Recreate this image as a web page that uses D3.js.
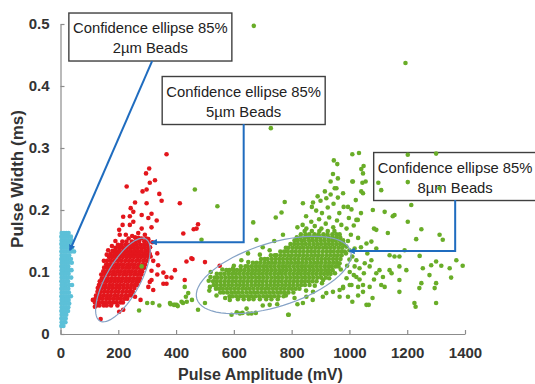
<!DOCTYPE html>
<html><head><meta charset="utf-8">
<script src="https://cdn.jsdelivr.net/npm/d3@7"></script>
<style>html,body{margin:0;padding:0;background:#fff}svg{display:block}</style>
</head><body>
<svg id="c" width="535" height="384"></svg>
<script>
const xTicks=[0,200,400,600,800,1000,1200,1400];
const yTicks=[0,0.1,0.2,0.3,0.4,0.5];
const xTitle="Pulse Amplitude (mV)";
const yTitle="Pulse Width (ms)";

// 2µm beads (rows: width, amplitudes)
const cyanRows=[
[0.163,[4,12,20,28]],[0.157,[3,11,19,27,36]],[0.151,[4,12,20,29,38]],[0.145,[3,11,19,27,35]],
[0.139,[4,12,20,28,40]],[0.133,[3,11,19,27,37,47]],[0.127,[4,12,20,30]],[0.121,[3,11,19,27,36]],
[0.115,[4,12,20,28,39]],[0.109,[3,11,19,27]],[0.103,[4,12,20,29,38]],[0.097,[3,11,19,28]],
[0.091,[4,12,20,27,37]],[0.085,[3,11,19,26]],[0.079,[4,12,20,30,40]],[0.073,[3,11,19,27]],
[0.067,[4,12,20,29]],[0.061,[3,11,19,27,36]],[0.055,[4,12,20,28]],[0.049,[3,11,19,30]],
[0.043,[4,12,20,27]],[0.037,[3,11,19,26]],[0.031,[4,12,20]],[0.025,[3,11,18]],[0.019,[4,12,17]],[0.013,[3,10]]
];
// 5µm beads
const redCoreRows=[
[0.154,[236,262,281,297]],
[0.149,[214,228,247,259,272,290,303]],
[0.144,[199,212,226,238,251,263,276,289,300]],
[0.139,[190,203,216,229,241,254,266,279,292,305]],
[0.134,[180,192,205,218,230,243,255,268,281,294,306]],
[0.129,[173,186,198,210,223,236,248,261,273,286,297,309]],
[0.124,[168,179,191,204,216,229,241,254,267,279,292,304]],
[0.118,[161,174,186,199,211,224,237,249,262,274,287,299]],
[0.112,[158,169,181,194,206,219,232,244,257,270,283,293]],
[0.107,[151,164,176,189,201,214,227,239,252,265,278,290]],
[0.101,[148,159,171,184,196,209,222,234,247,260,273,283]],
[0.096,[141,154,166,179,191,204,217,229,242,255,268,280]],
[0.090,[143,152,164,177,189,202,214,227,240,252,265,275]],
[0.085,[136,149,161,174,186,199,211,224,237,250,262,272]],
[0.079,[133,144,156,169,181,194,206,219,232,245,257,266]],
[0.074,[129,142,154,167,179,192,204,217,230,243,256]],
[0.068,[128,139,151,164,176,189,201,214,227,240,250]],
[0.062,[123,136,148,161,173,186,198,211,224,236,245]],
[0.057,[121,134,146,159,171,184,196,209,222,231]],
[0.051,[119,132,144,157,169,182,194,207,216]],
[0.046,[125,135,150,160,175,197]]
];
const redScatter=[
[367,.290],[307,.267],[296,.259],[327,.248],[309,.244],[229,.238],[298,.233],[284,.230],[342,.226],[350,.215],
[413,.211],[298,.211],[258,.212],[243,.203],[252,.197],[281,.192],[240,.190],[315,.194],[217,.189],[304,.187],
[333,.183],[252,.181],[215,.176],[240,.176],[281,.170],[315,.172],[203,.168],[269,.163],[425,.162],[292,.160],
[258,.156],[304,.153],[335,.130],[321,.118],[338,.111],[436,.117],[396,.103],[315,.102],[356,.099],[335,.096],
[367,.092],[384,.091],[309,.084],[356,.081],[367,.081],[304,.076],[315,.087],[321,.071],[258,.060],[277,.055],
[217,.039],[203,.036],[119,.044],[139,.024],[476,.177],[461,.169],[457,.121],[500,.116],[551,.110],[430,.087],
[453,.122],[471,.170],[310,.140],[312,.125],[318,.148],[205,.160],[190,.150],[178,.142],[165,.135],[112,.055],
[226,.160],[248,.158],[270,.155],[160,.128],[150,.118]
];
// 8µm beads
const greenCoreRows=[
[0.166,[845,870,896,925,948]],
[0.161,[832,848,861,879,893,910,924,941,955,966]],
[0.156,[818,831,846,858,872,887,899,914,928,941,955,968]],
[0.151,[810,819,833,845,860,873,886,900,913,927,940,953,966,978]],
[0.145,[796,809,822,836,849,862,876,889,902,916,929,942,955,968,980]],
[0.139,[780,789,803,816,829,842,856,869,882,895,909,922,935,948,962,975]],
[0.133,[761,774,787,801,814,827,840,854,867,880,893,907,920,933,946,960,972,984]],
[0.127,[728,742,748,762,775,788,801,815,828,841,854,868,881,894,907,921,934,947,960,973]],
[0.121,[694,707,717,731,744,757,770,784,797,810,823,837,850,863,876,890,903,916,929,943,956,969]],
[0.115,[666,679,692,706,719,732,745,759,772,785,798,812,825,838,851,865,878,891,904,918,931,944,957]],
[0.109,[624,640,648,661,674,687,701,714,727,740,754,767,780,793,807,820,833,846,860,873,886,899,913,926,939,952,962]],
[0.103,[574,584,598,611,624,637,651,664,677,690,704,717,730,743,757,770,783,796,810,823,836,849,863,876,889,902,916,929,942]],
[0.097,[541,554,567,581,594,607,620,634,647,660,673,687,700,713,726,740,753,766,779,793,806,819,832,846,859,872,885,899,912,925,935]],
[0.091,[534,544,557,571,584,597,610,624,637,650,663,677,690,703,716,730,743,756,769,783,796,809,822,836,849,862,875,889,902,918]],
[0.085,[528,541,554,568,581,594,607,621,634,647,660,674,687,700,713,727,740,753,766,780,793,806,819,833,846,859,872,886]],
[0.079,[530,541,555,568,581,594,608,621,634,647,661,674,687,700,714,727,740,753,767,780,793,806,820,833,846,862]],
[0.073,[538,549,562,576,589,602,615,629,642,655,668,682,695,708,721,735,748,761,774,788,801,814,827]],
[0.067,[553,564,577,591,604,617,630,644,657,670,683,697,710,723,736,750,763,776,789,806]],
[0.061,[585,596,609,622,635,649,662,675,688,702,715,728,741,755,772]],
[0.056,[614,634,652,668,690,712,730,752]]
];
const greenScatter=[
[669,.497],[1194,.437],[728,.332],
[1010,.290],[1033,.292],[946,.280],[958,.274],[1041,.266],[943,.258],[1010,.246],[1045,.244],[935,.246],[960,.251],
[949,.235],[978,.227],[1047,.227],[465,.233],[543,.206],[776,.213],[920,.219],[839,.211],[874,.212],[765,.196],
[667,.180],[745,.188],[1007,.201],[1029,.184],[488,.152],[724,.135],[649,.130],[597,.106],[519,.092],[517,.076],
[442,.066],[419,.052],[396,.047],[379,.050],[500,.050],[476,.039],[586,.055],[644,.041],[621,.033],[661,.033],
[592,.031],[724,.047],[788,.031],[839,.050],[851,.060],[874,.068],[920,.066],[943,.068],[978,.076],[1007,.079],
[1047,.079],[1024,.092],[1001,.100],[1018,.109],[1053,.114],[1059,.047],[909,.087],[966,.114],
[272,.038],[300,.050],[319,.050],[342,.046],[381,.048],[402,.047],[434,.060],[430,.076],[281,.109],[392,.047],
[406,.045],[424,.050],[437,.052],[455,.055],
[1049,.271],[1047,.259],[1056,.246],[1012,.246],[1041,.230],[1022,.216],[1110,.232],[1202,.289],[1300,.291],
[1214,.208],[1081,.200],[1122,.197],[1150,.190],[1156,.192],[1202,.181],[998,.187],[1024,.184],[1085,.170],
[1093,.168],[1249,.169],[1133,.163],[1312,.160],[1323,.152],[1231,.153],[1059,.146],[1076,.149],[989,.141],
[1018,.138],[1093,.138],[1139,.127],[1156,.125],[1173,.125],[1243,.126],[1191,.135],[1300,.117],[1370,.119],
[1392,.110],[1347,.106],[1318,.110],[1283,.111],[1254,.106],[1197,.103],[1173,.109],[1139,.103],[1104,.103],
[1070,.109],[1035,.106],[1024,.119],[1076,.119],[1116,.092],[1093,.098],[1277,.095],[1352,.091],[1300,.082],
[1249,.082],[1173,.087],[1146,.098],[1110,.079],[1122,.076],[1070,.076],[1030,.076],[1001,.079],[978,.074],
[1047,.068],[1173,.068],[1242,.074],[1295,.074],[1225,.050],[1229,.044],[1300,.050],[1067,.047],[966,.060],
[1100,.244],[1202,.245],[1312,.235],
[820,.172],[838,.176],[851,.170],[868,.181],[880,.174],[895,.185],[903,.170],[918,.178],[930,.188],[944,.172],
[957,.183],[965,.195],[972,.176],[905,.195],[885,.199],[925,.204],[945,.210],[960,.220],[900,.215],[870,.205],
[850,.190],[935,.225],[955,.235],[915,.230],[890,.222],[980,.205],[990,.170],[995,.150],[988,.130],[1000,.120],
[992,.110],[610,.035],[630,.034],[650,.033],[676,.034],[700,.046],[750,.048],[790,.031],[820,.048],[873,.055],
[908,.060],[966,.071],[678,.152],[626,.119],
[1005,.160],[1015,.175],[1030,.155],[1040,.195],[995,.205],[1000,.135],[1010,.125],[1040,.140],[1062,.130],
[1050,.098],[1085,.088],[1015,.095],[1035,.088],[990,.090],[995,.060],[1010,.052],[1030,.062],[1080,.058],
[700,.140],[740,.150],[770,.160],[690,.128],[650,.116],[600,.110],[560,.104],[520,.100],[513,.086],[515,.070],
[540,.062],[570,.058],[780,.062],[810,.058],[850,.070],[880,.078],[905,.082],[930,.090],[950,.098],[970,.104]
];
// 85% confidence ellipses: centre, two conjugate half-axes (data units)
const ellipseCenters=[[216,0.0871],[738,0.0952]];
const ellipseAxisA=[[79.5,0.0661],[266,0.0387]];
const ellipseAxisB=[[51.2,-0.0134],[33,-0.049]];
const annotationText=[
["Confidence ellipse 85%","2µm Beads"],
["Confidence ellipse 85%","5µm Beads"],
["Confidence ellipse 85%","8µm Beads"]
];

// ---------- layout ----------
const x=d3.scaleLinear().domain([0,1400]).range([60.5,465]);
const y=d3.scaleLinear().domain([0,0.5]).range([334,24]);
const svg=d3.select("#c");
const font="'Liberation Sans', Arial, Helvetica, sans-serif";
const axisCol="#8c8c8c", textCol="#333";

// annotation anchors (data coords) – layout, not data
const annBoxes=[[311,0.479],[634,0.3766],[1366,0.254]];
const annPaths=[
 [[317,0.440],[33,0.1355]],
 [[634,0.3387],[634,0.148],[316,0.148]],
 [[1366,0.216],[1366,0.1339],[1001,0.1339]]
];
const boxW=163, boxH=48;

const ann=svg.append("g");
annBoxes.forEach((c,i)=>{
  const cx=x(c[0]), cy=y(c[1]);
  ann.append("rect").attr("x",cx-boxW/2).attr("y",cy-boxH/2).attr("width",boxW).attr("height",boxH)
    .attr("fill","#fff").attr("stroke","#404040").attr("stroke-width",1.4);
  annotationText[i].forEach((t,j)=>{
    ann.append("text").attr("x",cx).attr("y",cy-boxH/2+20+j*20).attr("text-anchor","middle")
      .attr("font-family",font).attr("font-size",14.8).attr("fill","#222").text(t);
  });
});

// axes
const gx=svg.append("g").attr("transform",`translate(0,${y(0)})`)
  .call(d3.axisBottom(x).tickValues(xTicks).tickSizeInner(-4).tickSizeOuter(0).tickPadding(14).tickFormat(d3.format("d")));
const gy=svg.append("g").attr("transform",`translate(${x(0)},0)`)
  .call(d3.axisLeft(y).tickValues(yTicks).tickSizeInner(-4).tickSizeOuter(0).tickPadding(11).tickFormat(d=>d===0?"0":d3.format(".1f")(d)));
[gx,gy].forEach(g=>{
  g.select(".domain").attr("stroke",axisCol).attr("stroke-width",1.2);
  g.selectAll(".tick line").attr("stroke",axisCol).attr("stroke-width",1.2);
  g.selectAll(".tick text").attr("font-family",font).attr("font-size",15).attr("font-weight","bold").attr("fill",textCol);
});
gx.selectAll(".tick text").attr("dy","0.71em").attr("y",13);

svg.append("text").attr("x",260.5).attr("y",380).attr("text-anchor","middle")
  .attr("font-family",font).attr("font-size",16).attr("font-weight","bold").attr("fill",textCol).text(xTitle);
svg.append("text").attr("transform","translate(23,179) rotate(-90)").attr("text-anchor","middle")
  .attr("font-family",font).attr("font-size",17).attr("font-weight","bold").attr("fill",textCol).text(yTitle);

// points
const rowsToPts=rows=>rows.flatMap(([w,xs])=>xs.map(v=>[v,w]));
const groups=[
 {pts:rowsToPts(cyanRows),col:"#5cc0d8"},
 {pts:rowsToPts(redCoreRows).concat(redScatter),col:"#e3161c"},
 {pts:rowsToPts(greenCoreRows).concat(greenScatter),col:"#69ad28"}
];
groups.forEach(g=>{
  svg.append("g").selectAll("circle").data(g.pts).join("circle")
    .attr("cx",d=>x(d[0])).attr("cy",d=>y(d[1])).attr("r",2.3).attr("fill",g.col);
});

// ellipses
const ts=d3.range(0,73).map(i=>i/72*2*Math.PI);
ellipseCenters.forEach((c,i)=>{
  const a=ellipseAxisA[i], b=ellipseAxisB[i];
  const pts=ts.map(t=>[c[0]+Math.cos(t)*a[0]+Math.sin(t)*b[0], c[1]+Math.cos(t)*a[1]+Math.sin(t)*b[1]]);
  svg.append("path").attr("d",d3.line().x(d=>x(d[0])).y(d=>y(d[1])).curve(d3.curveLinearClosed)(pts))
    .attr("fill","none").attr("stroke","#86a3c6").attr("stroke-width",1.2);
});

// connectors
const defs=svg.append("defs");
defs.append("marker").attr("id","ah").attr("viewBox","0 0 10 10").attr("refX",8).attr("refY",5)
  .attr("markerWidth",3.2).attr("markerHeight",3.2).attr("orient","auto")
  .append("path").attr("d","M0,0L10,5L0,10z").attr("fill","#1f6cbf");
annPaths.forEach(p=>{
  svg.append("path").attr("d",d3.line().x(d=>x(d[0])).y(d=>y(d[1]))(p))
    .attr("fill","none").attr("stroke","#1f6cbf").attr("stroke-width",2).attr("marker-end","url(#ah)");
});
</script>
</body></html>
